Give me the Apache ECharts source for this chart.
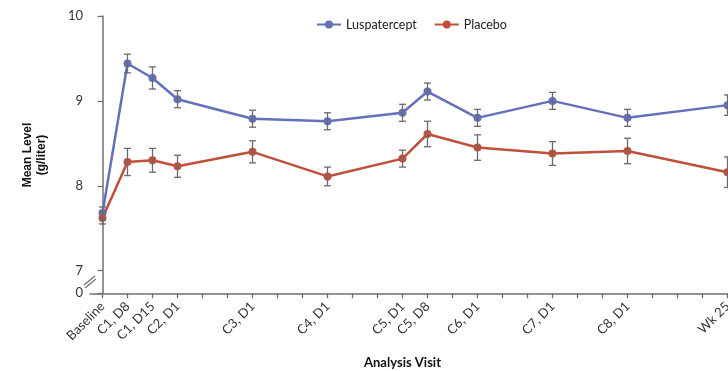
<!DOCTYPE html>
<html><head><meta charset="utf-8">
<script src="https://cdn.jsdelivr.net/npm/echarts@6/dist/echarts.min.js"></script>
<style>html,body{margin:0;padding:0;background:#fff}#c{width:728px;height:371px}</style>
</head><body><div id="c"></div>
<script>
const visits = ['Baseline','C1, D8','C1, D15','C2, D1','C3, D1','C4, D1','C5, D1','C5, D8','C6, D1','C7, D1','C8, D1','Wk 25'];
const visitPos = [0,1,2,3,6,9,12,13,15,18,21,25];
const lusMean = [7.68,9.44,9.27,9.02,8.79,8.76,8.86,9.11,8.80,9.00,8.80,8.95];
const lusErr  = [0.07,0.11,0.13,0.10,0.10,0.10,0.10,0.10,0.10,0.10,0.10,0.12];
const plaMean = [7.62,8.28,8.30,8.23,8.40,8.11,8.32,8.61,8.45,8.38,8.41,8.16];
const plaErr  = [0.07,0.16,0.14,0.13,0.13,0.11,0.10,0.15,0.15,0.14,0.15,0.18];
const yTicks = [7,8,9,10];
const yZero = 6.7333;

const blue = '#6470b9', red = '#c0503c', errCol = '#6a6a6a';
const font = 'Lato, "Open Sans", sans-serif';

function pts(m){ return visitPos.map((x,i)=>[x,m[i]]); }
function errs(m,e){ return visitPos.map((x,i)=>[x,m[i]-e[i],m[i]+e[i]]); }
function errRender(params, api){
  const x = api.value(0);
  const lo = api.coord([x, api.value(1)]);
  const hi = api.coord([x, api.value(2)]);
  const w = 3.5;
  const st = {stroke: errCol, lineWidth: 1.3};
  return {type:'group', children:[
    {type:'line', shape:{x1:lo[0],y1:lo[1],x2:hi[0],y2:hi[1]}, style:st},
    {type:'line', shape:{x1:lo[0]-w,y1:lo[1],x2:lo[0]+w,y2:lo[1]}, style:st},
    {type:'line', shape:{x1:hi[0]-w,y1:hi[1],x2:hi[0]+w,y2:hi[1]}, style:st}
  ]};
}

const chart = echarts.init(document.getElementById('c'), null, {renderer:'canvas'});
const axisCol = '#707070';
chart.setOption({
  animation:false,
  backgroundColor:'#fff',
  legend:{
    top:13, left:311, itemWidth:24, itemHeight:10, itemGap:17,
    textStyle:{fontFamily:font, fontSize:12.5, color:'#222'},
    data:['Luspatercept','Placebo']
  },
  grid:{left:90, top:16, width:650, bottom:77.7, containLabel:false, outerBoundsMode:'none'},
  xAxis:{
    type:'value', min:-0.5, max:25.5,
    axisLine:{show:true, lineStyle:{color:axisCol, width:1.5}},
    axisTick:{show:true, length:5, lineStyle:{color:axisCol, width:1.3},
      customValues: Array.from({length:26},(_, i)=>i)},
    axisLabel:{rotate:45, margin:11, fontFamily:font, fontSize:13, color:'#333',
      customValues: visitPos,
      formatter: v => { const i = visitPos.indexOf(Math.round(v)); return i>=0 ? visits[i] : ''; }},
    splitLine:{show:false}
  },
  yAxis:{
    type:'value', min:yZero, max:10,
    axisLine:{show:true, lineStyle:{color:axisCol, width:1.5}},
    axisTick:{show:true, length:5, lineStyle:{color:axisCol, width:1.3},
      customValues:[yZero].concat(yTicks)},
    axisLabel:{margin:7, fontFamily:font, fontSize:13, color:'#333',
      customValues:[yZero].concat(yTicks),
      formatter: v => v < 6.9 ? '0' : String(Math.round(v))},
    splitLine:{show:false}
  },
  series:[
    {name:'Luspatercept', type:'line', data:pts(lusMean), symbol:'circle', symbolSize:8,
      itemStyle:{color:blue}, lineStyle:{color:blue, width:2.5}, z:3, clip:false},
    {name:'Placebo', type:'line', data:pts(plaMean), symbol:'circle', symbolSize:8,
      itemStyle:{color:red}, lineStyle:{color:red, width:2.5}, z:3, clip:false},
    {type:'custom', data:errs(lusMean,lusErr), renderItem:errRender, z:4, encode:{x:0,y:[1,2]}},
    {type:'custom', data:errs(plaMean,plaErr), renderItem:errRender, z:4, encode:{x:0,y:[1,2]}}
  ]
});

// axis titles and axis break mark
const p7 = chart.convertToPixel({gridIndex:0}, [-0.5, 7]);
const p0 = chart.convertToPixel({gridIndex:0}, [-0.5, yZero]);
const bx = p7[0], by = (p7[1]+p0[1])/2;
const xl = chart.convertToPixel({gridIndex:0}, [12, yZero]);
chart.setOption({
  graphic:[
    {type:'rect', shape:{x:bx-3, y:by-3, width:6, height:6}, style:{fill:'#fff'}, z:10},
    {type:'line', shape:{x1:bx-6, y1:by+3, x2:bx+5, y2:by-6}, style:{stroke:axisCol, lineWidth:1.3}, z:11},
    {type:'line', shape:{x1:bx-5, y1:by+6, x2:bx+6, y2:by-3}, style:{stroke:axisCol, lineWidth:1.3}, z:11},
    {type:'text', x:xl[0], y:363, style:{text:'Analysis Visit', font:'bold 13px '+font, fill:'#111', align:'center', verticalAlign:'middle'}, z:10},
    {type:'text', x:35, y:155, rotation:Math.PI/2, style:{text:'Mean Level\n(g/liter)', font:'bold 12px "Liberation Sans", Arial, sans-serif', fill:'#111', align:'center', verticalAlign:'middle', lineHeight:14}, z:10}
  ]
});
</script></body></html>
